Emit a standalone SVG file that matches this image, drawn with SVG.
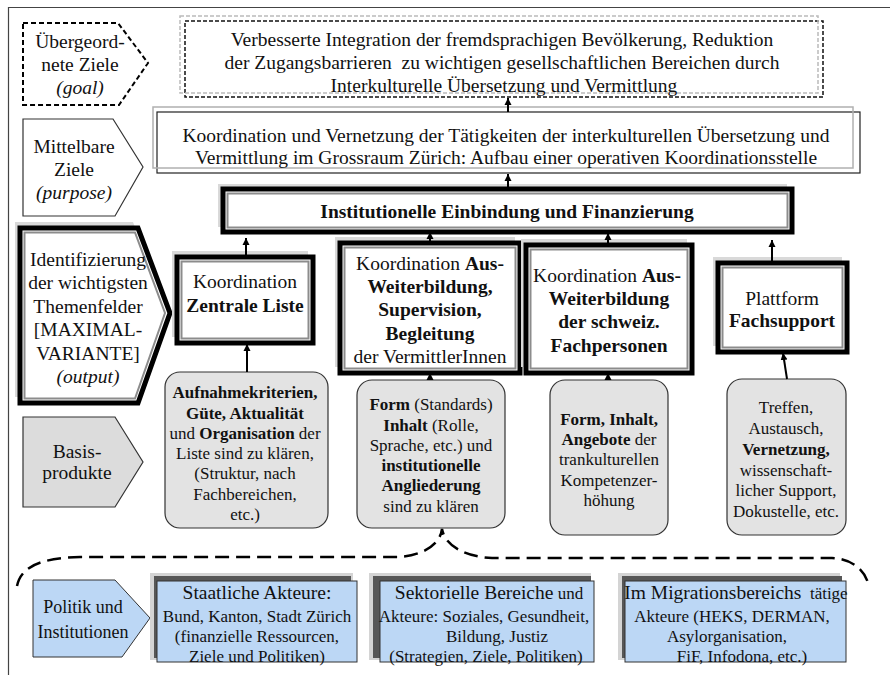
<svg xmlns="http://www.w3.org/2000/svg" width="890" height="675" viewBox="0 0 890 675">
<defs>
<marker id="ah" markerUnits="userSpaceOnUse" markerWidth="8" markerHeight="8" refX="7" refY="4" orient="auto"><path d="M0,0.5 L7,4 L0,7.5 z" fill="#000"/></marker>
</defs>
<style>
text{font-family:"Liberation Serif","Times New Roman",serif;fill:#111;text-anchor:middle}
.m{font-size:19.5px}
.s{font-size:17px}
.p{font-size:18px}
.b{font-weight:bold}
.it{font-style:italic}
.sh{fill:#d9d9d9}
.fo{fill:#fff;stroke:#000;stroke-width:5}
.fi{fill:none;stroke:#8c8c8c;stroke-width:2}
.bp{fill:#e3e3e3;stroke:#333;stroke-width:1.2}
.bl{fill:#bcd7f5;stroke:#333;stroke-width:1}
.lg{fill:#d4d4d4}
.dg{fill:#575757}
.c{fill:none;stroke:#000;stroke-width:2;marker-end:url(#ah)}
</style>
<rect x="0" y="0" width="890" height="675" fill="#fff"/>
<path d="M8.5,675 V7.5 H890" fill="none" stroke="#444" stroke-width="1.2"/>

<g id="label-goal">
<path d="M23,23 H118 L148,63 L119,105 H23 Z" fill="#fff" stroke="#000" stroke-width="2" stroke-dasharray="5,3"/>
<text class="m" x="80" y="48">Übergeord-</text>
<text class="m" x="80" y="71">nete Ziele</text>
<text class="m it" x="80" y="94">(goal)</text>
</g>

<g id="goal">
<rect x="185" y="21" width="638" height="76" fill="#fff" stroke="#111" stroke-width="1.5" stroke-dasharray="4,2"/>
<rect x="180" y="16" width="638" height="77" fill="none" stroke="#bbb" stroke-width="1.5" stroke-dasharray="4,2"/>
<text class="m" x="502" y="46">Verbesserte Integration der fremdsprachigen Bevölkerung, Reduktion</text>
<text class="m" x="502" y="69">der Zugangsbarrieren&#160; zu wichtigen gesellschaftlichen Bereichen durch</text>
<text class="m" x="504" y="92">Interkulturelle Übersetzung und Vermittlung</text>
</g>

<g id="label-purpose">
<path d="M23,119 H113 L143,167 L115,216 H23 Z" fill="#fff" stroke="#333" stroke-width="1.2"/>
<text class="m" x="74" y="153">Mittelbare</text>
<text class="m" x="74" y="176">Ziele</text>
<text class="m it" x="74" y="199">(purpose)</text>
</g>

<g id="purpose">
<rect x="157" y="112" width="703" height="61" fill="#fff" stroke="#222" stroke-width="1.2"/>
<rect x="153" y="107" width="700" height="61" fill="none" stroke="#b0b0b0" stroke-width="1.5"/>
<text class="m" x="506" y="142">Koordination und Vernetzung der Tätigkeiten der interkulturellen Übersetzung und</text>
<text class="m" x="506" y="164">Vermittlung im Grossraum Zürich: Aufbau einer operativen Koordinationsstelle</text>
</g>

<g id="institutionelle">
<rect class="sh" x="218" y="184" width="569" height="43"/>
<rect class="fo" x="223" y="189" width="569" height="43"/>
<rect class="fi" x="227.5" y="193.5" width="560" height="34"/>
<text class="m b" x="507" y="218">Institutionelle Einbindung und Finanzierung</text>
</g>

<g id="label-output">
<path class="sh" d="M15,222 H133 L165,307 L133,397 H15 Z"/>
<path class="fo" d="M20,228 H138 L170,313 L138,403 H20 Z"/>
<path class="fi" d="M24.5,232.5 H135 L165,313 L135,398.5 H24.5 Z"/>
<text class="m" x="88" y="266">Identifizierung</text>
<text class="m" x="88" y="289">der wichtigsten</text>
<text class="m" x="88" y="313">Themenfelder</text>
<text class="m" x="88" y="336">[MAXIMAL-</text>
<text class="m" x="88" y="360">VARIANTE]</text>
<text class="m it" x="88" y="383">(output)</text>
</g>

<g id="zentrale-liste">
<rect class="sh" x="172" y="251" width="136" height="86"/>
<rect class="fo" x="177" y="257" width="136" height="86"/>
<rect class="fi" x="181.5" y="261.5" width="127" height="77"/>
<text class="m" x="245" y="288">Koordination</text>
<text class="m b" x="245" y="312">Zentrale Liste</text>
</g>

<g id="weiterbildung-vermittler">
<rect class="sh" x="335" y="237" width="180" height="130"/>
<rect class="fo" x="340" y="243" width="180" height="130"/>
<rect class="fi" x="344.5" y="247.5" width="171" height="121"/>
<text class="m" x="430" y="270">Koordination <tspan class="b">Aus-</tspan></text>
<text class="m b" x="430" y="293">Weiterbildung,</text>
<text class="m b" x="430" y="316">Supervision,</text>
<text class="m b" x="430" y="340">Begleitung</text>
<text class="m" x="430" y="363">der VermittlerInnen</text>
</g>

<g id="weiterbildung-fachpersonen">
<rect class="sh" x="521" y="239" width="166" height="128"/>
<rect class="fo" x="526" y="245" width="166" height="128"/>
<rect class="fi" x="530.5" y="249.5" width="157" height="119"/>
<text class="m" x="607" y="282">Koordination <tspan class="b">Aus-</tspan></text>
<text class="m b" x="609" y="305">Weiterbildung</text>
<text class="m b" x="609" y="328">der schweiz.</text>
<text class="m b" x="609" y="352">Fachpersonen</text>
</g>

<g id="plattform">
<rect class="sh" x="713" y="257" width="129" height="89"/>
<rect class="fo" x="718" y="263" width="129" height="89"/>
<rect class="fi" x="722.5" y="267.5" width="120" height="80"/>
<text class="m" x="782" y="305">Plattform</text>
<text class="m b" x="782" y="327">Fachsupport</text>
</g>

<g id="label-basis">
<path d="M23,417 H115 L143,462 L115,507 H23 Z" fill="#dcdcdc" stroke="#333" stroke-width="1.2"/>
<text class="m" x="77" y="458">Basis-</text>
<text class="m" x="77" y="479">produkte</text>
</g>

<g id="basis-liste">
<rect class="bp" x="165" y="372" width="163" height="156" rx="15"/>
<text class="s b" x="245" y="398">Aufnahmekriterien,</text>
<text class="s b" x="245" y="418.5">Güte, Aktualität</text>
<text class="s" x="245" y="439">und <tspan class="b">Organisation</tspan> der</text>
<text class="s" x="245" y="459">Liste sind zu klären,</text>
<text class="s" x="245" y="479">(Struktur, nach</text>
<text class="s" x="245" y="500">Fachbereichen,</text>
<text class="s" x="245" y="520">etc.)</text>
</g>

<g id="basis-vermittler">
<rect class="bp" x="357" y="380" width="148" height="148" rx="15"/>
<text class="s" x="431" y="410"><tspan class="b">Form</tspan> (Standards)</text>
<text class="s" x="431" y="431"><tspan class="b">Inhalt</tspan> (Rolle,</text>
<text class="s" x="431" y="451">Sprache, etc.) und</text>
<text class="s b" x="431" y="471">institutionelle</text>
<text class="s b" x="431" y="491">Angliederung</text>
<text class="s" x="431" y="512">sind zu klären</text>
</g>

<g id="basis-fachpersonen">
<rect class="bp" x="550" y="380" width="118" height="155" rx="15"/>
<text class="s b" x="609" y="425">Form, Inhalt,</text>
<text class="s" x="609" y="445"><tspan class="b">Angebote</tspan> der</text>
<text class="s" x="609" y="465">trankulturellen</text>
<text class="s" x="609" y="486">Kompetenzer-</text>
<text class="s" x="609" y="506">höhung</text>
</g>

<g id="basis-plattform">
<rect class="bp" x="727" y="379" width="119" height="156" rx="15"/>
<text class="s" x="786" y="413">Treffen,</text>
<text class="s" x="786" y="434">Austausch,</text>
<text class="s b" x="786" y="455">Vernetzung,</text>
<text class="s" x="786" y="476">wissenschaft-</text>
<text class="s" x="786" y="496">licher Support,</text>
<text class="s" x="786" y="517">Dokustelle, etc.</text>
</g>

<g id="label-politik">
<path class="bl" d="M33,580 H115 L150,618 L122,657 H33 Z"/>
<text class="p" x="83" y="613">Politik und</text>
<text class="p" x="83" y="638">Institutionen</text>
</g>

<g id="staatliche-akteure">
<rect class="lg" x="150" y="573" width="203" height="87"/>
<rect class="dg" x="154" y="576" width="197" height="82"/>
<rect class="bl" x="157" y="581" width="200" height="81"/>
<text class="m" x="257" y="599">Staatliche Akteure:</text>
<text class="s" x="257" y="622">Bund, Kanton, Stadt Zürich</text>
<text class="s" x="257" y="642">(finanzielle Ressourcen,</text>
<text class="s" x="257" y="662">Ziele und Politiken)</text>
</g>

<g id="sektorielle-bereiche">
<rect class="lg" x="369" y="573" width="222" height="87"/>
<rect class="dg" x="373" y="576" width="218" height="82"/>
<rect class="bl" x="380" y="581" width="214" height="81"/>
<text x="489" y="599"><tspan class="m">Sektorielle Bereiche</tspan><tspan class="s"> und</tspan></text>
<text class="s" x="484" y="622">Akteure: Soziales, Gesundheit,</text>
<text class="s" x="497" y="642">Bildung, Justiz</text>
<text class="s" x="486" y="662">(Strategien, Ziele, Politiken)</text>
</g>

<g id="migrationsbereich">
<rect class="lg" x="618" y="573" width="222" height="87"/>
<rect class="dg" x="622" y="576" width="220" height="82"/>
<rect class="bl" x="625" y="581" width="221" height="81"/>
<text x="736" y="599"><tspan class="m">Im Migrationsbereichs</tspan><tspan class="s">&#160; tätige</tspan></text>
<text class="s" x="732" y="622">Akteure (HEKS, DERMAN,</text>
<text class="s" x="727" y="642">Asylorganisation,</text>
<text class="s" x="742" y="662">FiF, Infodona, etc.)</text>
</g>

<g id="connectors">
<path class="c" d="M508,112 V98"/>
<path class="c" d="M508,189 V174"/>
<path class="c" d="M246,257 V238"/>
<path class="c" d="M430,243 V232"/>
<path class="c" d="M608,245 V233"/>
<path class="c" d="M772,263 V240"/>
<path class="c" d="M247,372 V344"/>
<path class="c" d="M430,380 V373"/>
<path class="c" d="M608,380 V373"/>
<path class="c" d="M787,379 L783,353"/>
<path d="M17,586 C21,566 42,558 80,557 L398,557 C420,556 440,546 442,529 C445,546 466,557 492,558 L832,558 C852,559 866,570 869,587" fill="none" stroke="#000" stroke-width="2.5" stroke-dasharray="14,7"/>
</g>
</svg>
